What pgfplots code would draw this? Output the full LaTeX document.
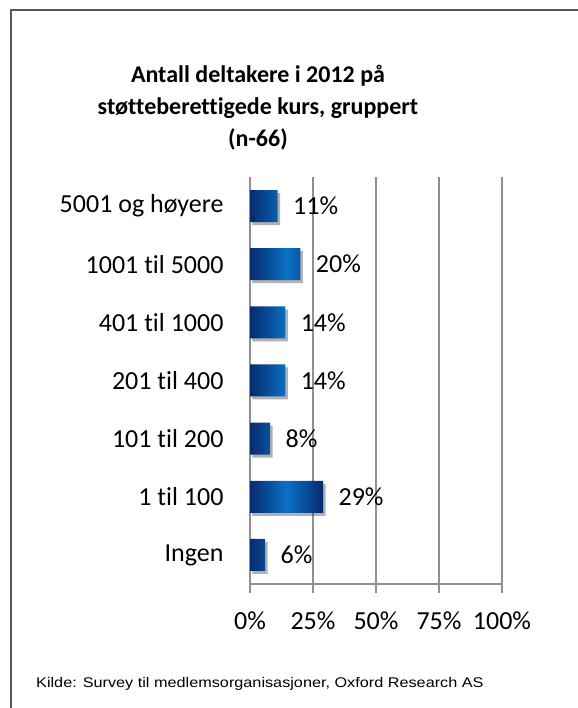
\documentclass[border=0pt]{standalone}
\usepackage{pgfplots}
\pgfplotsset{compat=1.18}
\usepackage{fontspec}
\setmainfont{Carlito}[Ligatures=NoCommon]
\newfontfamily\arialfont{Liberation Sans}
\usetikzlibrary{shadows}

\definecolor{barDark}{HTML}{062A6E}
\definecolor{barMid}{HTML}{0A72C4}
\definecolor{gridGray}{HTML}{8F8F8F}
\definecolor{frameGray}{HTML}{555555}

\begin{document}
\begin{tikzpicture}
\path[use as bounding box] (0,0) rectangle (578bp,708bp);
\draw[frameGray, line width=1.2bp] (11bp,-1bp) -- (11bp,698bp) -- (579bp,698bp);

\node[font=\fontsize{24bp}{32bp}\selectfont\bfseries, anchor=base] at (258bp,625bp) {Antall deltakere i 2012 på};
\node[font=\fontsize{24bp}{32bp}\selectfont\bfseries, anchor=base] at (258bp,593bp) {støtteberettigede kurs, gruppert};
\node[font=\fontsize{24bp}{32bp}\selectfont\bfseries, anchor=base] at (258bp,561bp) {(n-66)};

\begin{axis}[
  at={(250bp,124bp)}, anchor=south west,
  scale only axis, width=252bp, height=407bp,
  xbar, bar width=32bp,
  xmin=0, xmax=100,
  ymin=-0.5, ymax=6.5,
  axis lines*=left,
  axis line style={gridGray, line width=1.5bp},
  xtick={0,25,50,75,100},
  xticklabels={0\%,25\%,50\%,75\%,100\%},
  xmajorgrids,
  grid style={gridGray, line width=1.5bp},
  ytick={0,...,6},
  yticklabels={Ingen,1 til 100,101 til 200,201 til 400,401 til 1000,1001 til 5000,5001 og høyere},
  minor ytick={-0.5,0.5,...,6.5},
  major tick length=9bp,
  minor tick length=8bp,
  tick align=outside,
  ytick style={draw=none},
  minor tick style={draw=gridGray, line width=1.5bp},
  xtick style={draw=gridGray, line width=1.5bp},
  tick label style={font=\fontsize{26bp}{30bp}\selectfont},
  /pgf/number format/assume math mode=true,
  yticklabel style={xshift=-14bp},
  xticklabel style={yshift=-15bp},
  nodes near coords={\pgfmathprintnumber{\pgfplotspointmeta}\%},
  nodes near coords align=horizontal,
  nodes near coords style={font=\fontsize{26bp}{30bp}\selectfont, anchor=west, xshift=12bp},
  clip=false,
]
\addplot[draw=none, left color=barDark, right color=barDark, middle color=barMid,
  drop shadow={shadow xshift=2.5bp, shadow yshift=-3bp, opacity=0.22,
    left color=black, right color=black, middle color=black}]
  coordinates {
  (6,0) (29,1) (8,2) (14,3) (14,4) (20,5) (11,6)
};
\end{axis}

\node[font=\arialfont\fontsize{14bp}{16bp}\selectfont, anchor=base west, inner sep=0] at (36bp,21bp) {\scalebox{1.16}[1]{Kilde: Survey til medlemsorganisasjoner, Oxford Research AS}};
\end{tikzpicture}
\end{document}
